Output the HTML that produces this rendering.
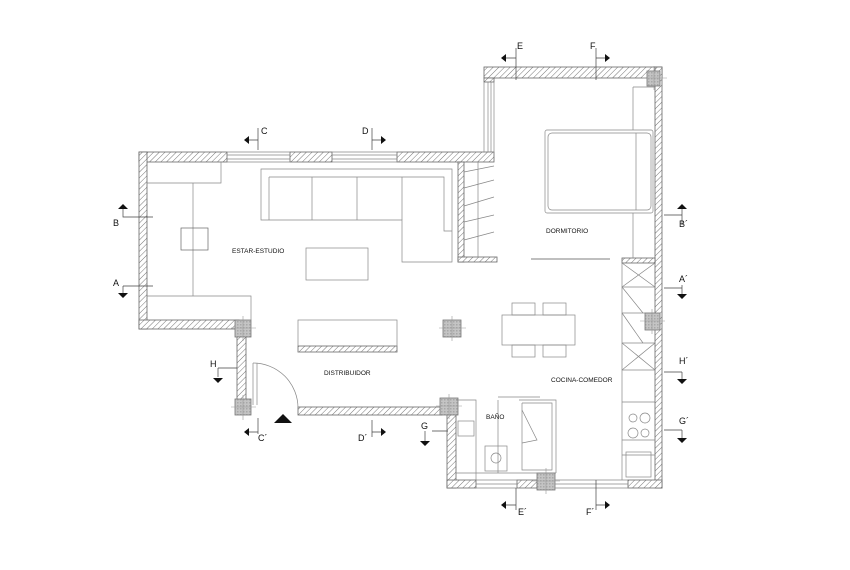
<!DOCTYPE html>
<html><head><meta charset="utf-8"><style>
html,body{margin:0;padding:0;background:#fff;width:850px;height:570px;overflow:hidden}
svg text{font-family:"Liberation Sans",sans-serif;fill:#111}
</style></head><body>
<svg width="850" height="570" viewBox="0 0 850 570" xmlns="http://www.w3.org/2000/svg">
<defs>
<pattern id="h" width="4" height="4" patternUnits="userSpaceOnUse" patternTransform="rotate(45)">
<rect width="4" height="4" fill="#fff"/><line x1="0" y1="0" x2="0" y2="4" stroke="#777" stroke-width="1"/></pattern>
<pattern id="p" width="3" height="3" patternUnits="userSpaceOnUse"><rect width="3" height="3" fill="#c4c4c4"/><rect width="1.5" height="1.5" fill="#a8a8a8"/></pattern>
</defs>
<g stroke="#666" stroke-width="0.8" fill="url(#h)">
<rect x="139" y="152" width="88" height="10"/>
<rect x="290" y="152" width="42" height="10"/>
<rect x="397" y="152" width="97" height="10"/>
<rect x="139" y="152" width="8" height="177"/>
<rect x="139" y="320" width="100" height="9"/>
<rect x="237" y="330" width="9" height="75"/>
<rect x="298" y="407" width="144" height="8"/>
<rect x="458" y="162" width="6" height="100"/>
<rect x="458" y="257" width="39" height="5"/>
<rect x="484" y="67" width="178" height="11"/>
<rect x="655" y="67" width="7" height="421"/>
<rect x="484" y="78" width="10" height="4"/>
<rect x="622" y="258" width="33" height="5"/>
<rect x="447" y="410" width="9" height="78"/>
<rect x="447" y="480" width="29" height="8"/>
<rect x="517" y="480" width="20" height="8"/>
<rect x="628" y="480" width="34" height="8"/>
<rect x="298" y="346" width="99" height="6"/>
</g>
<g fill="url(#p)" stroke="#777" stroke-width="0.8">
<rect x="235" y="320" width="16" height="17"/>
<rect x="235" y="399" width="16" height="16"/>
<rect x="440" y="398" width="18" height="17"/>
<rect x="443" y="320" width="18" height="17"/>
<rect x="537" y="473" width="18" height="17"/>
<rect x="645" y="313" width="15" height="17"/>
<rect x="647" y="71" width="13" height="15"/>
</g>
<g stroke="#999" stroke-width="0.6" fill="none">
<path d="M231 328H256M243 316V341M231 407H256M243 395V420M436 406H462M449 394V419M439 328H466M452 316V341M532 481H560M546 468V494M640 321H665M652 309V334M643 78H667M654 66V90"/>
</g>
<g stroke="#888" stroke-width="0.7" fill="none">
<path d="M227 152H290M227 155H290M227 159H290M227 162H290M332 152H397M332 155H397M332 159H397M332 162H397"/>
<path d="M484 82V152M488 82V152M491 82V152M494 82V152"/>
<path d="M476 480H517M476 484H517M476 488H517M555 480H628M555 484H628M555 488H628"/>
<path d="M147 183H221V162M193 183V296M147 296H251V320"/>
<rect x="181" y="228" width="27" height="22" stroke="#666"/>
<path d="M261 169H452V262H402V220H261Z"/>
<path d="M269 177H444V231H452M269 177V220M312 177V220M357 177V220M402 177V220"/>
<rect x="306" y="248" width="62" height="32"/>
<rect x="298" y="320" width="99" height="32"/>
<path d="M464 172L494 166M464 188L494 180M464 206L494 197M464 222L494 215M464 240L494 232M478 162V257"/>
<rect x="545" y="130" width="108" height="83" rx="2"/>
<rect x="548" y="133" width="103" height="77" rx="4"/>
<path d="M636 133V210M633 87H655M633 87V130M633 213V258"/>
<path d="M531 259H610" stroke-width="1.5" stroke="#aaa"/>
<path d="M622 263V480M622 287H655M622 313H655M622 343H655M622 370H655M622 402H655M622 440H655M622 455H655"/>
<path d="M622 263L655 287M655 263L622 287M622 287L643 313M622 343L655 370M655 343L622 370M622 313L643 343"/>
<circle cx="633" cy="418" r="4"/><circle cx="645" cy="418" r="5"/><circle cx="633" cy="433" r="5"/><circle cx="645" cy="433" r="4"/>
<rect x="626" y="452" width="25" height="25"/>
<rect x="502" y="315" width="73" height="30"/>
<rect x="512" y="303" width="23" height="12"/><rect x="543" y="303" width="23" height="12"/>
<rect x="512" y="345" width="23" height="12"/><rect x="543" y="345" width="23" height="12"/>
<path d="M456 400H476V480M456 473H556"/>
<rect x="458" y="421" width="16" height="15"/>
<rect x="485" y="446" width="22" height="25"/>
<circle cx="496" cy="458" r="5"/>
<path d="M498 400V473M519 400H556V473M522 403H552V470H522V403M498 397H540"/>
<path d="M522 410L537 440L522 443"/>
<path d="M253 363A45 45 0 0 1 298 408M253 363V405M257 363V405"/>
</g>
<g stroke="#444" stroke-width="0.7" fill="none">
<path d="M258 128V150M245 140H258M372 128V150M372 140H385M123 209V217H153M123 286V293M123 286H153M218 368V377M218 368H237M258 418V434M245 432H258M372 420V437M372 432H385M425 431V445M432 431H448M516 48V80M502 58H516M596 48V80M596 58H609M682 205V225M664 215H682M682 285V298M664 288H682M682 372V383M664 372H682M682 430V442M664 430H682M516 488V510M502 505H516M596 480V510M596 505H609"/>
</g>
<g fill="#111">
<path d="M244 140L249 136V144Z M386 140L381 136V144Z M123 204L118 209H128Z M123 298L118 293H128Z M218 383L213 378H223Z M244 432L249 428V436Z M386 432L381 428V436Z M425 446L420 441H430Z M501 58L506 54V62Z M610 58L605 54V62Z M682 204L677 209H687Z M682 299L677 294H687Z M682 384L677 379H687Z M682 443L677 438H687Z M501 505L506 501V509Z M610 505L605 501V509Z M283 414L274 423H292Z"/>
</g>
<g font-size="9">
<text x="261" y="134">C</text><text x="362" y="134">D</text>
<text x="113" y="226">B</text><text x="113" y="286">A</text><text x="210" y="367">H</text>
<text x="258" y="441">C´</text><text x="358" y="441">D´</text><text x="421" y="429">G</text>
<text x="517" y="49">E</text><text x="590" y="49">F</text>
<text x="679" y="227">B´</text><text x="679" y="282">A´</text><text x="679" y="364">H´</text><text x="679" y="424">G´</text>
<text x="518" y="515">E´</text><text x="586" y="515">F´</text>
</g>
<g font-size="6.5">
<text x="232" y="253">ESTAR-ESTUDIO</text>
<text x="324" y="375">DISTRIBUIDOR</text>
<text x="546" y="233">DORMITORIO</text>
<text x="551" y="382">COCINA-COMEDOR</text>
<text x="486" y="419">BAÑO</text>
</g>
</svg>
</body></html>
